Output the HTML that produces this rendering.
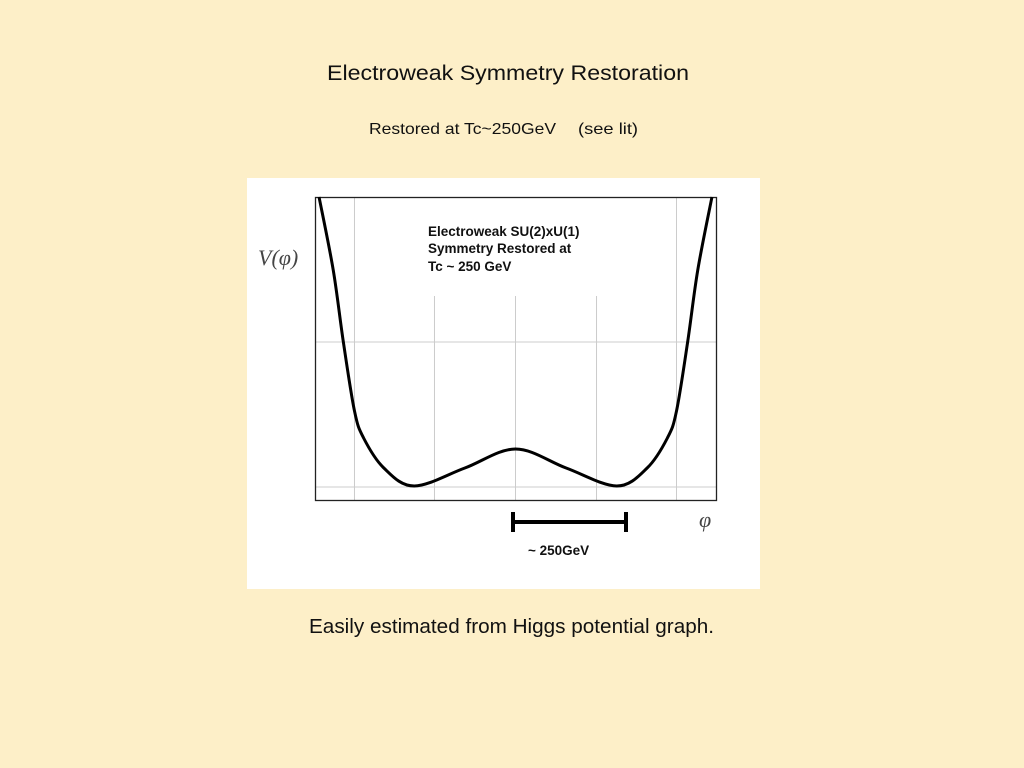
<!DOCTYPE html>
<html><head><meta charset="utf-8"><style>
html,body{margin:0;padding:0;background:#fdefc8;}
svg{display:block;font-family:"Liberation Sans",sans-serif;}
</style></head><body>
<svg id="chart" width="1024" height="768" viewBox="0 0 1024 768">
<rect width="1024" height="768" fill="#fdefc8"/>
<text x="327" y="80" font-size="21" fill="#111" textLength="362" lengthAdjust="spacingAndGlyphs">Electroweak Symmetry Restoration</text>
<text x="369" y="134" font-size="16" fill="#111" textLength="187" lengthAdjust="spacingAndGlyphs">Restored at Tc~250GeV</text>
<text x="578" y="134" font-size="16" fill="#111" textLength="60" lengthAdjust="spacingAndGlyphs">(see lit)</text>
<rect x="247" y="178" width="513" height="411" fill="#fff"/>
<g id="grid"></g>
<rect x="315.5" y="197.5" width="401" height="303" fill="none" stroke="#222" stroke-width="1.3"/>
<text x="428" y="236" font-size="13.5" font-weight="bold" fill="#111">Electroweak SU(2)xU(1)</text>
<text x="428" y="253" font-size="13.5" font-weight="bold" fill="#111">Symmetry Restored at</text>
<text x="428" y="271" font-size="13.5" font-weight="bold" fill="#111">Tc ~ 250 GeV</text>
<text x="258" y="265" font-size="22" font-style="italic" font-family="Liberation Serif, serif" fill="#444">V(φ)</text>
<text x="699" y="527" font-size="22" font-style="italic" font-family="Liberation Serif, serif" fill="#444">φ</text>
<path id="curve" fill="none" stroke="#000" stroke-width="3" stroke-linejoin="round"/>
<g>
<line x1="513" y1="522" x2="626" y2="522" stroke="#000" stroke-width="4"/>
<line x1="513" y1="512" x2="513" y2="532" stroke="#000" stroke-width="4"/>
<line x1="626" y1="512" x2="626" y2="532" stroke="#000" stroke-width="4"/>
</g>
<text x="528" y="555" font-size="13.5" font-weight="bold" fill="#111">~ 250GeV</text>
<text x="309" y="633" font-size="20" fill="#111" textLength="405" lengthAdjust="spacingAndGlyphs">Easily estimated from Higgs potential graph.</text>
</svg>
<script>
const phiValues=[-1.94,-1.8,-1.7,-1.59,-1.5,-1.3,-1.0,-0.5,0,0.5,1.0,1.3,1.5,1.59,1.7,1.8,1.94];
const potentialValues=[303,230,158,89,62,32,14,32,51,32,14,32,62,89,158,230,303];
const gridPhi=[-1.59,-0.8,0,0.8,1.59];
const gridV=[13,158];
const X0=315,X1=716,Y0=500,Y1=197,PMIN=-1.98,PMAX=1.98,VMAX=303;
const xs=p=>X0+(p-PMIN)/(PMAX-PMIN)*(X1-X0);
const ys=v=>Y0-v/VMAX*(Y0-Y1);
const ns='http://www.w3.org/2000/svg';
const g=document.getElementById('grid');
gridPhi.forEach(p=>{
  const l=document.createElementNS(ns,'line');
  const x=xs(p);
  l.setAttribute('x1',x);l.setAttribute('x2',x);
  l.setAttribute('y1',Math.abs(p)<1.2?296:Y1);l.setAttribute('y2',Y0);
  l.setAttribute('stroke','#ccc');l.setAttribute('stroke-width','1');
  
  
  g.appendChild(l);
});
gridV.forEach(v=>{
  const l=document.createElementNS(ns,'line');
  const y=ys(v);
  l.setAttribute('x1',X0);l.setAttribute('x2',X1);
  l.setAttribute('y1',y);l.setAttribute('y2',y);
  l.setAttribute('stroke','#ccc');l.setAttribute('stroke-width','1');
  
  
  g.appendChild(l);
});
const pts=phiValues.map((p,i)=>[xs(p),ys(potentialValues[i])]);
let d='M'+pts[0][0]+','+pts[0][1];
for(let i=0;i<pts.length-1;i++){
  const p0=pts[Math.max(0,i-1)],p1=pts[i],p2=pts[i+1],p3=pts[Math.min(pts.length-1,i+2)];
  const c1=[p1[0]+(p2[0]-p0[0])/6,p1[1]+(p2[1]-p0[1])/6];
  const c2=[p2[0]-(p3[0]-p1[0])/6,p2[1]-(p3[1]-p1[1])/6];
  d+=' C'+c1+' '+c2+' '+p2;
}
document.getElementById('curve').setAttribute('d',d);
</script>
</body></html>
